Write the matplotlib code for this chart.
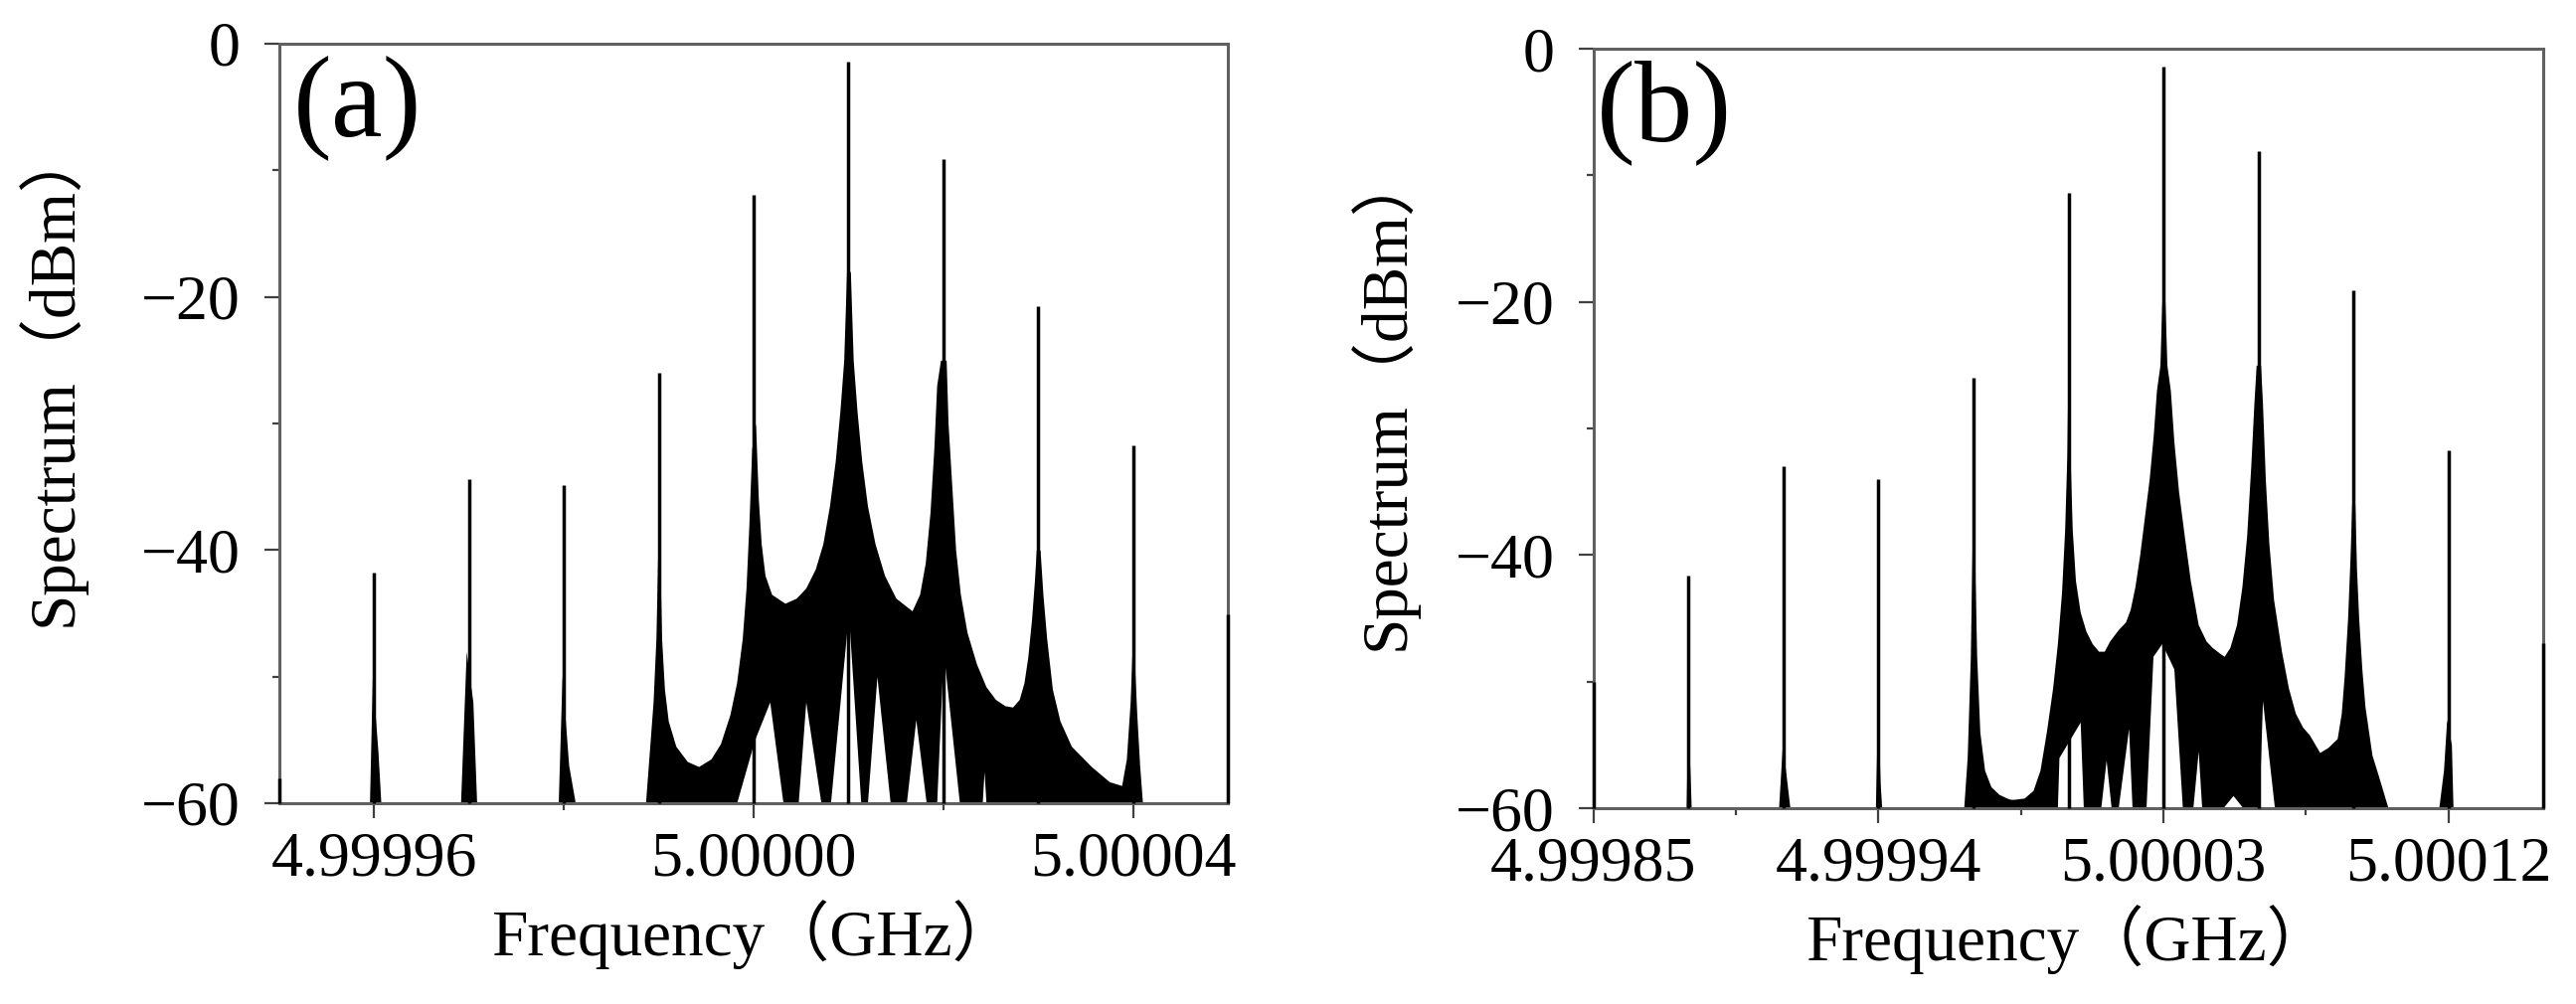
import matplotlib.pyplot as plt
import numpy as np

plt.rcParams['font.family'] = ['Liberation Serif', 'Noto Sans CJK SC']

# ---- panel (a): comb lines every 10 kHz around 5 GHz (offsets in kHz) ----
peak_a_khz = [-50, -40, -30, -20, -10, 0, 10, 20, 30, 40, 50]
peak_a_db = [-58, -41.8, -34.4, -34.9, -26.0, -11.9, -1.4, -9.1, -20.7, -31.7, -45.1]

# upper edge of the dense (filled) part of the spectrum
env_a_khz = [-40.5, -40.2, -39.6, -39.3,
             -30.9, -30.3, -29.6, -29.2,
             -20.6, -20.2, -19.5, -18.8,
             -11.4, -11.0, -10.6, -10.3, -10.1, -9.9, -9.7, -9.4, -9.0, -8.2, -7.0,
             -5.8, -4.5, -3.5, -2.5, -1.8, -1.2, -0.8, -0.5, -0.2,
             0.2, 0.5, 0.8, 1.2, 1.9, 3.3, 4.5, 5.5, 6.5, 7.3, 8.0, 8.6, 9.1, 9.5, 9.8,
             10.2, 10.5, 10.9, 11.4, 12.0, 12.8, 13.8, 15.0, 16.7, 17.5, 18.1, 18.6,
             19.0, 19.3, 19.7,
             20.3, 20.5, 20.9, 21.3, 21.8, 22.5, 23.5, 24.5, 25.5, 26.5, 27.3, 28.0,
             28.5, 28.9, 29.3, 29.6, 29.8,
             30.2, 30.5, 30.9, 31.5, 32.3, 33.5, 35.6, 37.5, 38.8, 39.3, 39.7, 39.9,
             40.1, 40.4, 40.7, 41.0]
env_a_db = [-60, -50, -56, -60,
            -60, -48, -52, -60,
            -60, -50, -57, -60,
            -60, -56, -52, -47, -40, -40, -47, -51, -53.5, -55.5, -56.7,
            -57.1, -56.5, -55.3, -53, -50.5, -47, -43, -38, -32,
            -30, -36, -39.5, -42, -43.5, -44.2, -43.8, -43, -41.5, -39.5, -36.5, -33, -29, -25, -18,
            -18, -25, -29, -33, -36.5, -39.5, -42, -43.8, -44.8, -43.5, -41, -37,
            -32, -27, -25,
            -25, -30, -35, -40, -43.5, -46.5, -49, -50.8, -51.8, -52.3, -52.4, -51.8,
            -50.5, -48.5, -45.5, -42.5, -40,
            -40, -43.5, -47, -51, -53.5, -55.5, -57.1, -58.3, -58.6, -56.5, -52, -48,
            -48, -53, -57, -60]

# lower edge (white gaps reaching up from the floor)
gap_a_khz = [-1.8, 0.1, 1.7, 3.1, 4.7, 5.5, 7.1, 8.1, 10.0, 11.3, 12.0, 13.0, 14.4,
             16.1, 17.1, 18.2, 19.3, 20.0, 21.7, 24.1, 24.3, 24.5]
gap_a_db = [-60, -55, -52, -60, -60, -52, -60, -60, -45, -60, -60, -50, -60,
            -60, -53.4, -60, -60, -48, -60, -60, -57.5, -60]

# ---- panel (b): comb lines every 30 kHz ----
peak_b_khz = [-150, -120, -90, -60, -30, 0, 30, 60, 90, 120, 150]
peak_b_db = [-50, -41.6, -33.0, -34.0, -26.0, -11.4, -1.4, -8.1, -19.1, -31.7, -47.0]

env_b_khz = [-120.8, -120.3, -119.6, -119.2,
             -91.6, -90.4, -89.4, -88.0,
             -61.0, -60.3, -59.5, -59.0,
             -33.1, -32.0, -31.0, -30.5, -30.2, -29.8, -29.5, -29.0, -28.0, -26.5,
             -24.5, -22.0, -19.5, -18.3,
             -17.2, -14.0, -11.2, -9.0, -7.0, -5.0, -3.5, -2.2, -1.2, -0.5, -0.2,
             0.2, 0.6, 1.2, 2.2, 3.7, 5.5, 7.5, 9.5, 11.3, 13.0, 15.7, 18.0, 19.5, 21.0,
             22.5, 24.0, 25.5, 26.8, 27.8, 28.9, 29.5,
             30.5, 31.1, 32.2, 33.3, 34.8, 36.6, 38.5, 41.0, 43.5, 45.4, 48.0, 49.2,
             51.0, 53.1, 54.8, 56.3, 57.6, 58.6, 59.3,
             60.7, 61.3, 62.2, 63.3, 64.8, 67.3, 69.5, 71.7, 74.0, 76.1, 79.4, 82.0,
             84.9, 86.2, 87.1, 88.2, 89.0, 89.5,
             90.5, 91.0, 91.7, 92.7, 93.7, 95.9, 98.0, 101.0,
             117.0, 118.5, 119.5, 121.0, 121.5]
env_b_db = [-60, -53, -57, -60,
            -60, -55, -57, -60,
            -60, -52, -58, -60,
            -60, -56, -48, -40, -34, -34, -42, -48, -54, -57,
            -58.3, -58.9, -59.2, -59.3,
            -59.3, -59.2, -58.6, -57, -54, -50.5, -47, -43, -38, -32, -26,
            -26, -33, -38, -42, -44.5, -46, -47, -47.6, -47.6, -46.8, -45.9, -45.3, -44.3, -42.5,
            -40, -37, -34, -30.5, -27, -25, -20,
            -20, -25, -27, -31, -35, -38.5, -42, -45.5, -46.8, -47.3, -47.8, -48.0,
            -47.3, -45.5, -42.5, -38.5, -33, -28, -25,
            -25, -28, -34, -39, -43.5, -47.6, -50.5, -52.5, -53.6, -54.2, -55.6, -55.2,
            -54.5, -52.5, -49.6, -45, -40, -36,
            -36, -41, -45, -49, -52, -55.8, -57.5, -60,
            -60, -57, -53, -55, -60]

gap_b_khz = [-3.5, -3.0, 3.7, 4.7, 10.2, 11.9, 13.5, 15.7, 19.0, 20.1,
             24.5, 26.7, 29.5, 33.3, 36.0, 39.3, 41.0, 42.1, 48.7, 52.0, 55.2,
             60.2, 61.3, 65.1]
gap_b_db = [-60, -56, -53.2, -60, -60, -56.2, -60, -60, -53.7, -60,
            -60, -48, -47, -49, -60, -60, -55.5, -60, -60, -59, -60,
            -60, -51.5, -60]


def ghz(khz):
    return 5 + np.asarray(khz) * 1e-6


def draw(ax, pk, pdb, ek, edb, gk, gdb):
    ax.fill_between(ghz(ek), edb, -60, color='black', lw=0)
    ax.fill_between(ghz(gk), gdb, -60, color='white', lw=0)
    ax.vlines(ghz(pk), -60, pdb, color='black', lw=2.5, clip_on=False, zorder=3)


fig = plt.figure(figsize=(25.91, 10.10), dpi=100)
ax_a = fig.add_axes([281 / 2591, 1 - 808 / 1010, 954 / 2591, 764 / 1010])
ax_b = fig.add_axes([1603 / 2591, 1 - 813 / 1010, 955 / 2591, 764 / 1010])

draw(ax_a, peak_a_khz, peak_a_db, env_a_khz, env_a_db, gap_a_khz, gap_a_db)
draw(ax_b, peak_b_khz, peak_b_db, env_b_khz, env_b_db, gap_b_khz, gap_b_db)

ax_a.set_xlim(4.99995, 5.00005)
ax_a.set_xticks([4.99996, 5.0, 5.00004], ['4.99996', '5.00000', '5.00004'])
ax_a.set_xticks([4.99998, 5.00002], minor=True)

ax_b.set_xlim(4.99985, 5.00015)
ax_b.set_xticks([4.99985, 4.99994, 5.00003, 5.00012],
                ['4.99985', '4.99994', '5.00003', '5.00012'])
ax_b.set_xticks([4.999895, 4.999985, 5.000075], minor=True)

for ax in (ax_a, ax_b):
    ax.set_ylim(-60, 0)
    ax.set_yticks([0, -20, -40, -60], ['0', '\u221220', '\u221240', '\u221260'])
    ax.set_yticks([-10, -30, -50], minor=True)
    for s in ax.spines.values():
        s.set_color('#606060')
        s.set_linewidth(2.2)
    ax.tick_params(which='major', direction='out', length=10.5, width=1.6,
                   color='#404040', labelsize=46)
    ax.tick_params(which='minor', direction='out', length=5, width=1.6, color='#404040')
    ax.tick_params(axis='x', pad=10)
    ax.tick_params(axis='y', pad=18)
    ax.set_xlabel('Frequency（GHz）', fontsize=47, labelpad=8)
    ax.set_ylabel('Spectrum（dBm）', fontsize=47)

ax_a.yaxis.set_label_coords(-0.205, 0.565)
ax_b.yaxis.set_label_coords(-0.186, 0.54)

ax_a.text(0.015, 0.985, '(a)', transform=ax_a.transAxes, fontsize=84,
          ha='left', va='top')
ax_b.text(0.003, 0.985, '(b)', transform=ax_b.transAxes, fontsize=84,
          ha='left', va='top')

fig.savefig('out.png', dpi=100)
